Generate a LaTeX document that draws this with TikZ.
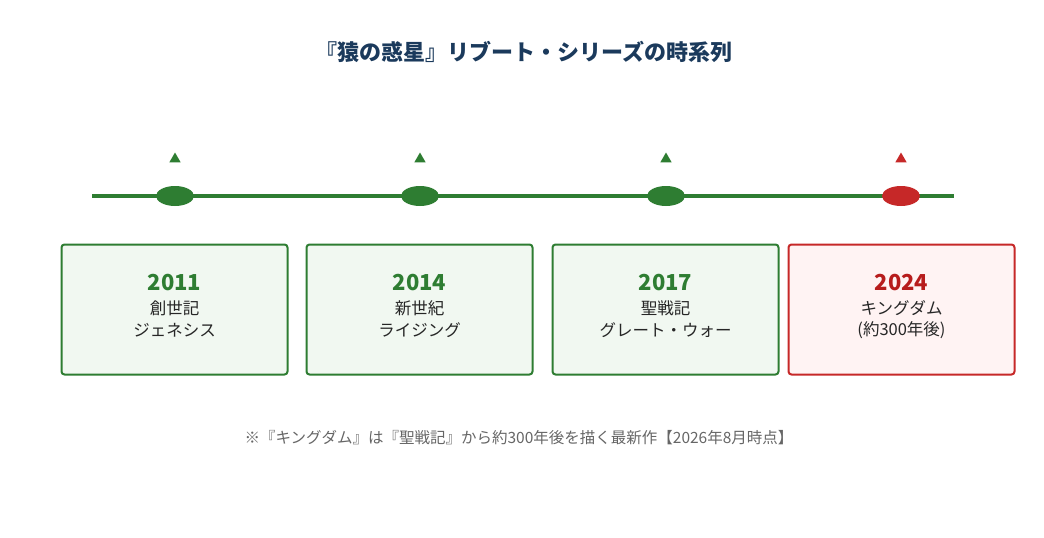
\documentclass[tikz,border=0pt]{standalone}
\usepackage{fontspec}
\setmainfont{Noto Sans CJK JP}
\usetikzlibrary{shapes.geometric}
\definecolor{gr}{HTML}{2E7D32}
\definecolor{rd}{HTML}{C62828}
\definecolor{rdt}{HTML}{B71C1C}
\definecolor{ttl}{HTML}{1B3A5C}
\definecolor{gbg}{HTML}{F1F8F1}
\definecolor{rbg}{HTML}{FFF3F3}
\tikzset{x=1pt,y=-1pt,
 box/.style={draw=#1,line width=2pt,rounded corners=3pt,minimum width=226pt,minimum height=130pt,inner sep=0pt},
 dot/.style={ellipse,fill=#1,minimum width=38pt,minimum height=20pt,inner sep=0pt},
 tri/.style={regular polygon,regular polygon sides=3,fill=#1,minimum size=13pt,inner sep=0pt},
 yr/.style={text=#1,font=\fontsize{22}{26}\selectfont\bfseries},
 lb/.style={text=black!85,font=\fontsize{16.5}{20}\selectfont}}
\begin{document}
\begin{tikzpicture}
\useasboundingbox (0,0) rectangle (1044,538);
\node[text=ttl,font=\fontsize{22}{26}\selectfont\bfseries] (title) at (524,52) {『猿の惑星』リブート・シリーズの時系列};
\coordinate (l1) at (92,196); \coordinate (l2) at (954,196);
\draw[gr,line width=4pt] (l1) -- (l2);
\foreach \x/\c/\n in {175/gr/a,420/gr/b,666/gr/c,901/rd/d}{
 \node[dot=\c] (e\n) at (\x,196) {};
 \node[tri=\c] (t\n) at (\x,159) {};
}
\foreach \x/\c/\t/\y/\a/\b/\bg/\n in {174.5/gr/gr/2011/創世記/ジェネシス/gbg/a,419.5/gr/gr/2014/新世紀/ライジング/gbg/b,665.5/gr/gr/2017/聖戦記/グレート・ウォー/gbg/c,901.5/rd/rdt/2024/キングダム/(約300年後)/rbg/d}{
 \node[box=\c,fill=\bg] (b\n) at (\x,309.5) {};
 \node[yr=\t] (y\n) at (\x,283) {\y};
 \node[lb] (p\n) at (\x,308) {\a};
 \node[lb] (q\n) at (\x,330) {\b};
}
\node[text=black!60,font=\fontsize{15.5}{18}\selectfont] (note) at (519,438) {※『キングダム』は『聖戦記』から約300年後を描く最新作【2026年8月時点】};
\end{tikzpicture}
\end{document}
